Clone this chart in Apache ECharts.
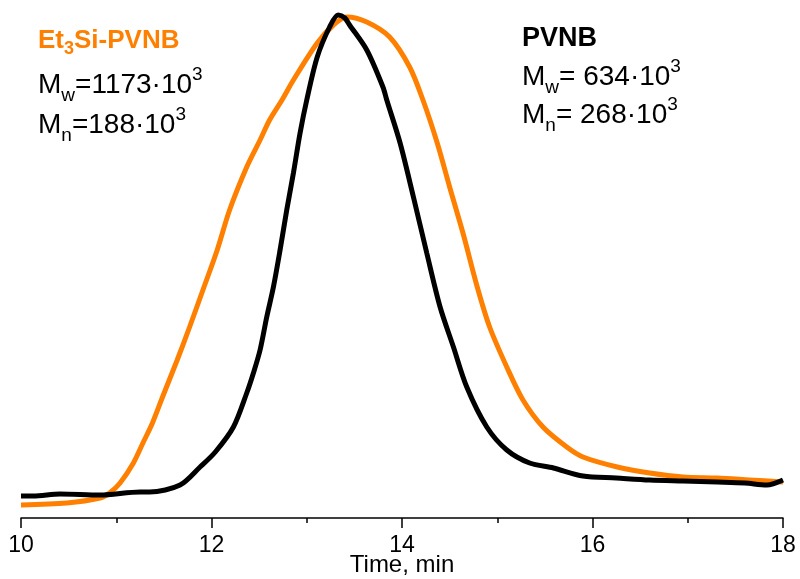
<!DOCTYPE html>
<html>
<head>
<meta charset="utf-8">
<script src="https://cdn.jsdelivr.net/npm/echarts@6/dist/echarts.min.js"></script>
<style>html,body{margin:0;padding:0;background:#fff}#c{width:800px;height:579px}</style>
</head>
<body>
<div id="c"></div>
<script>
// Time (min) and detector signal (arbitrary units)
var timePVNB = [10.00,10.13,10.41,10.83,11.25,11.35,11.67,11.88,12.04,12.23,12.37,12.44,12.51,12.58,12.65,12.72,12.79,12.86,12.93,13.00,13.11,13.24,13.33,13.40,13.45,13.63,13.80,13.84,13.98,14.12,14.26,14.40,14.54,14.68,14.89,15.10,15.34,15.59,15.90,16.25,16.60,16.95,17.31,17.60,17.83,18.00];
var signalPVNB = [22,22,24,23,26,26,33,51,66,91,125,145,168,201,231,268,308,345,385,418,461,491,503,500,493,468,431,418,375,321,265,211,171,131,91,68,55,50,42,40,38,37,36,35,33,38];

var timeEt3Si = [10.00,10.48,10.83,10.93,11.04,11.18,11.28,11.38,11.49,11.64,11.77,11.91,12.06,12.19,12.37,12.51,12.61,12.74,12.86,13.11,13.28,13.42,13.63,13.87,14.08,14.22,14.37,14.50,14.64,14.79,14.92,15.10,15.27,15.48,15.73,15.90,16.26,16.60,16.95,17.31,17.65,18.00];
var signalEt3Si = [13,15,20,25,35,55,75,95,122,158,191,228,268,308,351,378,398,418,438,475,493,501,496,481,451,418,375,331,285,231,191,151,118,91,71,61,51,45,41,40,38,36];

var xTicks = [10, 12, 14, 16, 18];
var axisTitle = 'Time, min';

function pairs(t, v) { return t.map(function (x, i) { return [x, v[i]]; }); }

var FONT = '"Liberation Sans", Arial, Helvetica, sans-serif';
var richBase = {
  m: { fontSize: 28, fontFamily: FONT, fill: '#000', lineHeight: 40, verticalAlign: 'middle' },
  sub: { fontSize: 19, fontFamily: FONT, fill: '#000', lineHeight: 19, verticalAlign: 'bottom' },
  sup: { fontSize: 19, fontFamily: FONT, fill: '#000', lineHeight: 19, verticalAlign: 'top' }
};
function txt(x, y, str, rich) {
  return { type: 'text', left: x, top: y, z: 10, style: { text: str, rich: rich, font: '28px ' + FONT } };
}
var richOrange = {
  b: { fontSize: 26, fontWeight: 'bold', fontFamily: FONT, fill: '#FF8000', lineHeight: 34, verticalAlign: 'middle' },
  s: { fontSize: 18, fontWeight: 'bold', fontFamily: FONT, fill: '#FF8000', lineHeight: 18, verticalAlign: 'bottom' }
};
var richBlackBold = {
  b: { fontSize: 27, fontWeight: 'bold', fontFamily: FONT, fill: '#000', lineHeight: 34, verticalAlign: 'middle' }
};

var chart = echarts.init(document.getElementById('c'), null, { renderer: 'canvas' });
chart.setOption({
  animation: false,
  backgroundColor: '#fff',
  grid: { left: 21, right: 17, top: 8, bottom: 61, containLabel: false, outerBoundsMode: 'none' },
  xAxis: {
    type: 'value', min: 10, max: 18, interval: 2,
    name: axisTitle, nameLocation: 'middle', nameGap: 35, nameMoveOverlap: false,
    nameTextStyle: { fontSize: 24, fontFamily: FONT, color: '#000' },
    axisLine: { onZero: false, lineStyle: { color: '#000', width: 1.5 } },
    axisTick: { show: true, inside: false, length: 10, lineStyle: { color: '#000', width: 1.5 } },
    minorTick: { show: true, splitNumber: 2, length: 5, lineStyle: { color: '#000', width: 1.5 } },
    axisLabel: { fontSize: 23, fontFamily: FONT, color: '#000', margin: 16,
      formatter: function (v) { return xTicks.indexOf(v) >= 0 ? String(v) : ''; } },
    splitLine: { show: false }
  },
  yAxis: { type: 'value', min: 0, max: 510, show: false, splitLine: { show: false } },
  series: [
    { type: 'line', name: 'Et3Si-PVNB', data: pairs(timeEt3Si, signalEt3Si), smooth: 0.3, showSymbol: false, symbol: 'none',
      lineStyle: { color: '#FF8000', width: 5 }, z: 2 },
    { type: 'line', name: 'PVNB', data: pairs(timePVNB, signalPVNB), smooth: 0.3, showSymbol: false, symbol: 'none',
      lineStyle: { color: '#000', width: 5 }, z: 3 }
  ],
  graphic: [
    txt(38, 28, '{b|Et}{s|3}{b|Si-PVNB}', richOrange),
    txt(38, 65, '{m|M}{sub|w}{m|=1173·10}{sup|3}', richBase),
    txt(38, 105, '{m|M}{sub|n}{m|=188·10}{sup|3}', richBase),
    txt(522, 25, '{b|PVNB}', richBlackBold),
    txt(522, 57, '{m|M}{sub|w}{m|= 634·10}{sup|3}', richBase),
    txt(522, 95, '{m|M}{sub|n}{m|= 268·10}{sup|3}', richBase)
  ]
});
</script>
</body>
</html>
